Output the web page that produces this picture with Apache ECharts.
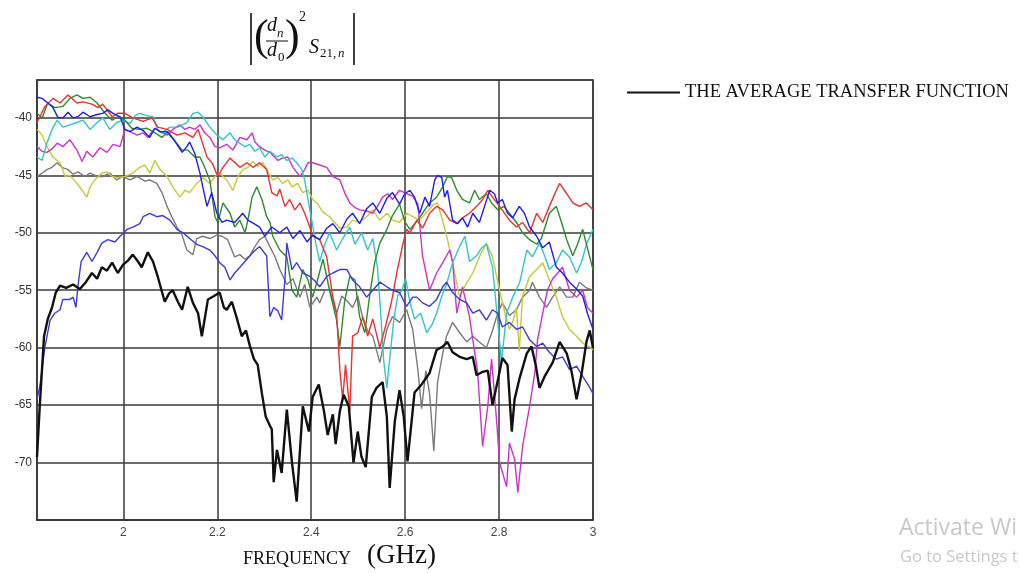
<!DOCTYPE html>
<html>
<head>
<meta charset="utf-8">
<title>Average transfer function</title>
<script src="https://cdn.jsdelivr.net/npm/echarts@6/dist/echarts.min.js"></script>
<style>
html, body { margin: 0; padding: 0; background: #fff; }
#chart { width: 1019px; height: 573px; }
</style>
</head>
<body>
<div id="chart"></div>
<script>
// values: frequency in GHz, level in dB

// average transfer function (black)
var freqAvg = [1.816,1.822,1.831,1.839,1.848,1.856,1.865,1.878,1.893,1.907,1.920,1.933,1.944,1.954,1.965,1.976,1.988,1.999,2.010,2.020,2.031,2.039,2.052,2.063,2.073,2.088,2.097,2.105,2.116,2.125,2.137,2.148,2.159,2.167,2.180,2.193,2.205,2.214,2.220,2.231,2.242,2.252,2.261,2.269,2.278,2.286,2.295,2.303,2.312,2.316,2.320,2.327,2.337,2.348,2.359,2.369,2.382,2.395,2.403,2.416,2.427,2.435,2.446,2.452,2.461,2.469,2.480,2.490,2.499,2.507,2.516,2.529,2.539,2.552,2.561,2.567,2.578,2.588,2.597,2.605,2.620,2.635,2.652,2.667,2.680,2.690,2.701,2.716,2.731,2.744,2.752,2.765,2.776,2.786,2.797,2.807,2.818,2.827,2.833,2.844,2.859,2.869,2.878,2.886,2.897,2.914,2.929,2.944,2.954,2.965,2.976,2.986,2.993,3.000];
var avgTF = [-69.5,-65,-59,-57.5,-56.5,-55.2,-54.6,-54.8,-54.5,-54.9,-54.3,-53.5,-54.0,-53.0,-53.3,-52.6,-53.5,-52.8,-52.4,-51.9,-52.5,-53.0,-51.7,-52.5,-53.8,-56.0,-55.3,-55.0,-56.0,-56.7,-54.7,-56.1,-57.0,-59.0,-55.8,-55.5,-55.2,-56.5,-56.7,-56.0,-57.5,-59.0,-58.5,-59.8,-61.0,-61.5,-64.0,-66.0,-66.8,-67.1,-71.7,-68.9,-70.9,-65.4,-70.0,-73.4,-65.1,-67.3,-64.3,-63.2,-65.5,-67.6,-65.8,-68.4,-65.5,-64.1,-65.1,-70.0,-67.3,-69.5,-70.4,-64.3,-63.5,-63.0,-66.0,-72.2,-66.4,-63.7,-66.0,-69.9,-63.9,-63.2,-62.2,-60.2,-59.9,-59.5,-60.4,-60.8,-61.0,-60.8,-62.4,-62.1,-62.0,-65.0,-62.9,-60.9,-61.5,-67.3,-64.5,-62.6,-60.5,-59.9,-61.5,-63.5,-62.5,-61.3,-59.5,-60.5,-62.0,-64.5,-62.2,-59.5,-58.5,-60.0];

// individual channels
var freqRed = [1.816,1.833,1.850,1.865,1.882,1.901,1.914,1.933,1.946,1.956,1.976,1.988,2.003,2.020,2.042,2.061,2.073,2.093,2.114,2.131,2.148,2.159,2.178,2.190,2.201,2.212,2.227,2.248,2.263,2.276,2.290,2.305,2.316,2.327,2.333,2.344,2.354,2.365,2.376,2.386,2.397,2.403,2.418,2.433,2.446,2.454,2.461,2.467,2.473,2.482,2.488,2.499,2.510,2.520,2.531,2.546,2.559,2.571,2.582,2.595,2.603,2.610,2.625,2.637,2.652,2.667,2.680,2.695,2.710,2.722,2.737,2.752,2.765,2.776,2.786,2.801,2.822,2.837,2.850,2.865,2.880,2.893,2.907,2.922,2.929,2.944,2.957,2.971,2.986,3.000];
var red = [-40.4,-39.0,-38.3,-38.7,-38.0,-38.7,-38.6,-38.8,-39.1,-38.8,-39.9,-39.6,-39.6,-40.0,-40.3,-40.0,-40.8,-41.0,-41.5,-41.3,-41.7,-41.0,-43.4,-44.0,-45.1,-44.3,-43.5,-44.3,-43.9,-44.3,-43.9,-44.5,-46.5,-46.8,-46.2,-47.7,-47.1,-48.0,-47.4,-48.3,-49.5,-50.3,-50.6,-52.1,-55.6,-57.0,-62.0,-64.5,-61.5,-65.5,-59.0,-58.7,-57.3,-59.0,-57.5,-60.0,-58.0,-56.0,-53.5,-51.0,-49.7,-50.0,-48.9,-49.6,-48.3,-47.7,-48.0,-48.9,-49.2,-48.7,-48.3,-47.7,-47.1,-46.3,-46.9,-47.7,-48.9,-49.5,-49.1,-50.0,-48.3,-49.1,-47.7,-46.3,-45.7,-46.6,-47.4,-47.7,-47.4,-48.0];

var freqGreen = [1.816,1.827,1.839,1.854,1.871,1.886,1.901,1.914,1.929,1.944,1.961,1.976,1.988,2.003,2.018,2.035,2.050,2.063,2.082,2.095,2.110,2.125,2.137,2.152,2.163,2.173,2.184,2.195,2.201,2.212,2.227,2.237,2.248,2.259,2.267,2.274,2.284,2.295,2.305,2.312,2.318,2.333,2.348,2.359,2.369,2.382,2.393,2.403,2.414,2.425,2.439,2.454,2.461,2.471,2.482,2.493,2.503,2.514,2.524,2.535,2.546,2.561,2.573,2.588,2.599,2.610,2.625,2.637,2.652,2.667,2.680,2.690,2.699,2.710,2.722,2.737,2.748,2.758,2.773,2.784,2.797,2.810,2.822,2.837,2.850,2.865,2.880,2.890,2.901,2.907,2.922,2.933,2.944,2.957,2.967,2.978,2.986,3.000];
var green = [-39.6,-40.0,-38.7,-39.1,-39.0,-38.3,-38.0,-38.3,-38.2,-38.7,-39.6,-40.2,-39.9,-40.2,-40.9,-41.0,-40.9,-41.2,-41.7,-41.2,-42.0,-42.8,-42.8,-43.4,-43.4,-44.3,-45.4,-48.6,-49.1,-47.4,-48.3,-49.5,-48.9,-50.0,-48.5,-46.9,-46.0,-47.1,-48.6,-49.1,-50.3,-51.5,-52.1,-55.0,-55.6,-53.2,-54.1,-55.6,-54.0,-52.3,-55.0,-57.6,-59.9,-56.0,-53.8,-54.1,-57.3,-58.7,-55.6,-52.6,-50.9,-49.7,-48.5,-47.5,-49.0,-49.7,-49.0,-48.3,-47.4,-46.9,-46.0,-45.1,-45.2,-46.3,-47.1,-47.4,-46.3,-47.1,-46.6,-47.4,-48.0,-47.7,-48.3,-49.1,-50.0,-50.6,-51.0,-50.5,-49.1,-48.3,-47.7,-49.1,-50.6,-52.0,-51.0,-49.7,-51.0,-53.2];

var freqCyan = [1.816,1.827,1.837,1.848,1.859,1.871,1.886,1.901,1.914,1.929,1.944,1.956,1.971,1.986,1.999,2.014,2.025,2.035,2.050,2.063,2.073,2.082,2.099,2.116,2.135,2.148,2.159,2.169,2.184,2.199,2.212,2.227,2.237,2.244,2.259,2.269,2.280,2.290,2.301,2.312,2.327,2.337,2.348,2.359,2.369,2.380,2.386,2.393,2.401,2.410,2.418,2.429,2.439,2.454,2.467,2.482,2.493,2.507,2.520,2.531,2.541,2.548,2.554,2.561,2.567,2.576,2.584,2.593,2.601,2.610,2.620,2.633,2.646,2.657,2.667,2.678,2.688,2.701,2.716,2.727,2.737,2.752,2.763,2.773,2.786,2.797,2.805,2.816,2.829,2.844,2.859,2.871,2.886,2.897,2.907,2.922,2.935,2.950,2.965,2.976,2.986,3.000];
var cyan = [-43.4,-43.7,-42.2,-41.0,-40.2,-40.8,-40.6,-40.4,-40.2,-41.0,-40.4,-40.0,-41.0,-40.4,-40.2,-40.5,-39.8,-39.6,-39.8,-39.9,-41.0,-41.3,-40.8,-40.8,-40.4,-39.6,-39.5,-39.9,-40.8,-41.5,-41.9,-41.3,-41.9,-42.1,-42.5,-42.3,-42.9,-42.6,-43.4,-42.9,-43.4,-43.2,-43.7,-43.5,-43.9,-44.5,-45.4,-47.1,-48.9,-51.0,-52.5,-51.0,-50.0,-51.5,-50.5,-49.5,-51.0,-50.0,-51.5,-50.5,-53.0,-57.0,-61.0,-63.5,-61.0,-57.5,-55.5,-55.0,-54.0,-56.0,-57.5,-57.0,-58.7,-58.0,-57.0,-55.5,-54.5,-52.6,-51.2,-50.3,-52.5,-52.0,-51.3,-51.0,-53.0,-57.6,-61.3,-57.0,-55.6,-54.3,-51.5,-52.1,-50.9,-52.0,-53.2,-52.6,-51.5,-52.1,-53.5,-52.5,-51.0,-49.7];

var freqMagenta = [1.816,1.827,1.837,1.848,1.859,1.871,1.886,1.901,1.912,1.922,1.935,1.950,1.965,1.978,1.993,2.003,2.014,2.029,2.042,2.052,2.067,2.078,2.093,2.105,2.120,2.131,2.141,2.152,2.163,2.173,2.184,2.195,2.205,2.220,2.233,2.248,2.263,2.274,2.280,2.290,2.301,2.312,2.329,2.339,2.350,2.361,2.376,2.386,2.393,2.403,2.418,2.433,2.446,2.461,2.471,2.482,2.493,2.503,2.518,2.531,2.541,2.552,2.563,2.573,2.588,2.603,2.616,2.627,2.637,2.652,2.667,2.680,2.695,2.701,2.710,2.722,2.737,2.744,2.754,2.765,2.776,2.784,2.795,2.801,2.816,2.822,2.833,2.840,2.850,2.865,2.876,2.882,2.893,2.903,2.914,2.925,2.935,2.950,2.965,2.978,2.988,3.000];
var magenta = [-42.5,-42.9,-43.0,-42.7,-42.2,-42.5,-41.9,-42.8,-43.8,-42.9,-43.4,-42.6,-43.0,-42.3,-42.5,-41.0,-41.2,-41.5,-41.3,-41.7,-40.9,-41.2,-41.5,-41.0,-40.6,-41.0,-40.8,-41.0,-40.6,-41.3,-41.7,-42.5,-42.6,-42.3,-42.8,-41.7,-41.9,-41.3,-42.1,-42.5,-42.8,-43.0,-43.7,-43.5,-43.4,-44.3,-45.1,-44.5,-43.9,-43.9,-44.1,-44.3,-45.1,-45.4,-46.5,-47.4,-47.8,-48.0,-48.1,-48.3,-47.7,-46.9,-46.6,-47.1,-46.3,-46.6,-46.8,-47.5,-52.0,-55.0,-53.5,-52.6,-51.5,-52.5,-57.0,-54.7,-57.3,-59.3,-62.0,-68.6,-65.1,-61.0,-66.5,-70.0,-72.1,-68.3,-69.7,-72.6,-68.6,-65.1,-62.2,-59.3,-57.0,-55.0,-54.0,-53.5,-53.0,-55.0,-55.6,-55.0,-56.5,-57.0];

var freqYellow = [1.816,1.827,1.837,1.850,1.865,1.876,1.886,1.901,1.912,1.922,1.929,1.939,1.954,1.965,1.976,1.988,2.003,2.020,2.035,2.046,2.056,2.067,2.078,2.093,2.105,2.120,2.131,2.141,2.156,2.169,2.184,2.195,2.205,2.220,2.233,2.244,2.254,2.265,2.276,2.286,2.297,2.308,2.318,2.329,2.339,2.350,2.359,2.371,2.382,2.393,2.403,2.414,2.425,2.439,2.450,2.461,2.476,2.488,2.503,2.518,2.531,2.546,2.561,2.573,2.588,2.603,2.616,2.631,2.646,2.659,2.669,2.680,2.688,2.701,2.716,2.729,2.744,2.758,2.773,2.786,2.801,2.816,2.822,2.831,2.837,2.843,2.850,2.865,2.880,2.893,2.907,2.922,2.935,2.950,2.965,2.978,2.992,3.000];
var yellow = [-41.0,-41.5,-42.5,-43.4,-43.9,-45.1,-45.0,-45.7,-46.3,-46.9,-46.0,-45.4,-44.8,-44.7,-45.1,-45.2,-45.1,-44.8,-44.3,-44.1,-44.8,-43.7,-44.5,-45.1,-46.0,-46.9,-46.3,-46.5,-45.7,-45.2,-45.7,-45.1,-44.8,-45.4,-46.3,-45.1,-44.5,-44.3,-43.8,-44.2,-43.9,-44.7,-45.4,-45.2,-45.7,-45.4,-46.0,-45.7,-46.5,-46.3,-47.1,-47.5,-48.2,-48.6,-49.1,-49.6,-49.5,-48.9,-49.1,-48.6,-48.0,-48.9,-48.3,-48.9,-49.1,-48.3,-48.6,-48.9,-48.2,-47.6,-47.4,-49.0,-50.2,-52.6,-55.6,-54.5,-53.5,-52.1,-50.9,-52.1,-55.0,-57.6,-58.4,-57.5,-56.5,-60.3,-55.5,-53.8,-53.2,-52.6,-54.1,-55.6,-57.3,-58.4,-59.0,-59.6,-59.9,-60.2];

var freqGray = [1.816,1.827,1.837,1.848,1.859,1.869,1.882,1.893,1.903,1.918,1.929,1.944,1.956,1.971,1.986,1.999,2.014,2.029,2.046,2.056,2.071,2.082,2.093,2.103,2.114,2.125,2.135,2.148,2.156,2.169,2.184,2.199,2.210,2.222,2.237,2.248,2.259,2.269,2.280,2.290,2.301,2.312,2.322,2.333,2.348,2.361,2.376,2.386,2.397,2.412,2.418,2.429,2.439,2.454,2.465,2.478,2.488,2.499,2.510,2.520,2.531,2.546,2.561,2.573,2.588,2.603,2.616,2.627,2.635,2.644,2.652,2.661,2.669,2.680,2.688,2.701,2.716,2.731,2.744,2.758,2.773,2.786,2.797,2.807,2.822,2.837,2.850,2.865,2.871,2.886,2.901,2.914,2.929,2.944,2.957,2.971,2.986,3.000];
var gray = [-45.1,-44.8,-44.5,-44.3,-43.9,-44.3,-44.5,-44.9,-44.7,-45.1,-44.8,-45.1,-45.1,-44.8,-45.4,-45.1,-45.4,-45.1,-45.5,-45.4,-45.7,-46.5,-47.7,-48.6,-49.5,-50.2,-51.5,-51.9,-50.5,-50.3,-50.5,-50.2,-50.3,-50.6,-52.1,-51.9,-52.3,-52.0,-51.2,-50.6,-50.3,-51.2,-52.0,-53.2,-54.5,-54.0,-55.6,-54.5,-56.5,-55.6,-56.1,-55.0,-55.0,-57.0,-55.5,-56.0,-56.5,-55.5,-57.5,-58.5,-59.0,-61.3,-58.4,-57.3,-57.8,-56.7,-58.4,-61.9,-65.3,-62.0,-64.0,-69.0,-63.0,-60.5,-59.0,-57.8,-58.7,-59.5,-59.0,-59.5,-60.0,-58.5,-57.0,-56.1,-57.2,-56.7,-55.6,-55.0,-54.3,-55.6,-56.5,-55.6,-54.7,-55.6,-55.6,-54.3,-54.8,-55.0];

var freqBlueA = [1.816,1.827,1.839,1.850,1.861,1.871,1.882,1.893,1.903,1.914,1.929,1.944,1.956,1.967,1.978,1.993,2.003,2.014,2.029,2.042,2.056,2.067,2.078,2.093,2.103,2.114,2.125,2.135,2.141,2.152,2.163,2.169,2.178,2.188,2.199,2.210,2.220,2.237,2.254,2.265,2.278,2.290,2.301,2.316,2.333,2.348,2.361,2.376,2.391,2.403,2.418,2.433,2.446,2.461,2.476,2.488,2.503,2.518,2.531,2.546,2.561,2.573,2.588,2.599,2.610,2.620,2.631,2.642,2.652,2.663,2.669,2.678,2.684,2.690,2.701,2.712,2.722,2.733,2.744,2.758,2.769,2.780,2.790,2.797,2.807,2.818,2.829,2.843,2.854,2.865,2.880,2.893,2.907,2.922,2.935,2.950,2.965,2.978,2.988,3.000];
var blueA = [-38.2,-38.3,-38.7,-39.1,-40.0,-40.0,-39.5,-40.0,-39.9,-39.5,-39.9,-39.7,-39.6,-39.3,-39.6,-39.9,-41.0,-41.2,-40.8,-41.1,-41.7,-40.9,-41.2,-41.2,-41.7,-42.3,-43.0,-42.5,-42.1,-43.1,-44.8,-46.0,-47.7,-46.5,-48.3,-49.1,-48.9,-49.1,-48.3,-48.9,-49.2,-49.5,-50.3,-49.5,-50.0,-49.5,-50.5,-49.8,-50.8,-50.2,-50.6,-49.6,-49.2,-50.0,-48.8,-48.3,-49.2,-47.9,-47.4,-48.3,-47.0,-46.5,-47.5,-46.6,-46.3,-46.9,-48.3,-46.9,-47.7,-45.4,-45.0,-45.2,-46.9,-46.3,-48.9,-49.2,-48.7,-49.5,-48.3,-49.1,-47.7,-46.3,-46.6,-47.4,-47.1,-48.3,-48.7,-47.7,-48.3,-49.5,-50.3,-51.3,-50.8,-53.0,-53.5,-54.3,-54.9,-55.5,-57.0,-58.4];

var freqBlueB = [1.816,1.822,1.833,1.844,1.854,1.865,1.871,1.886,1.893,1.899,1.903,1.910,1.922,1.933,1.944,1.954,1.967,1.982,1.993,2.008,2.020,2.035,2.042,2.056,2.071,2.084,2.099,2.114,2.127,2.141,2.156,2.169,2.184,2.195,2.205,2.216,2.227,2.237,2.248,2.263,2.276,2.290,2.305,2.312,2.320,2.329,2.337,2.344,2.348,2.359,2.369,2.382,2.397,2.408,2.418,2.433,2.446,2.461,2.476,2.488,2.503,2.518,2.531,2.546,2.561,2.573,2.588,2.603,2.616,2.625,2.637,2.652,2.667,2.680,2.688,2.701,2.716,2.731,2.744,2.758,2.773,2.786,2.797,2.807,2.822,2.837,2.850,2.865,2.880,2.893,2.907,2.922,2.935,2.950,2.965,2.978,2.992,3.000];
var blueB = [-64.5,-63.4,-59.9,-57.6,-57.0,-56.7,-55.8,-55.8,-55.6,-56.5,-54.7,-52.5,-51.7,-52.5,-51.7,-50.9,-50.6,-50.8,-50.3,-49.7,-49.5,-49.2,-48.6,-48.3,-48.6,-48.5,-48.9,-49.7,-50.0,-50.5,-51.0,-51.2,-51.5,-52.0,-52.6,-53.0,-54.1,-53.5,-53.0,-52.3,-51.7,-51.2,-52.0,-57.3,-56.5,-56.8,-57.6,-54.0,-50.9,-53.2,-52.6,-53.5,-53.8,-54.2,-54.7,-53.8,-53.5,-53.2,-53.2,-54.1,-54.7,-55.6,-55.0,-54.3,-54.7,-55.0,-55.2,-56.4,-55.6,-55.6,-56.1,-56.4,-55.8,-54.7,-54.3,-55.2,-55.8,-56.1,-57.0,-56.7,-57.6,-56.7,-57.0,-58.2,-57.8,-58.4,-58.2,-59.3,-59.9,-59.6,-60.4,-61.0,-60.8,-61.9,-61.6,-62.5,-63.4,-64.0];

var xTicks = [2, 2.2, 2.4, 2.6, 2.8, 3];
var yTicks = [-40, -45, -50, -55, -60, -65, -70];
var legendName = 'THE AVERAGE TRANSFER FUNCTION';

function pairs(xs, ys) {
	var out = [];
	for (var i = 0; i < xs.length; i++) {
		out.push([xs[i], ys[i]]);
	}
	return out;
}

function pickTick(list, v) {
	for (var i = 0; i < list.length; i++) {
		if (Math.abs(list[i] - v) < 1e-6) return String(list[i]);
	}
	return '';
}

function channel(name, xs, ys, color) {
	return {
		name: name,
		type: 'line',
		data: pairs(xs, ys),
		symbol: 'none',
		z: 2,
		lineStyle: { color: color, width: 1.4 },
		itemStyle: { color: color }
	};
}

var serif = '"Liberation Serif", "DejaVu Serif", serif';

var myChart = echarts.init(document.getElementById('chart'));
option = {
	animation: false,
	backgroundColor: '#ffffff',
	grid: {
		left: 37,
		right: 426,
		top: 80,
		bottom: 53,
		show: true,
		borderColor: '#333',
		borderWidth: 1.5
	},
	legend: {
		data: [{ name: legendName, icon: 'rect' }],
		left: 622,
		top: 78,
		itemWidth: 53,
		itemHeight: 2.2,
		itemGap: 5,
		textStyle: { fontFamily: serif, fontSize: 18.5, color: '#111' }
	},
	xAxis: {
		type: 'value',
		min: 1.816,
		max: 3,
		axisLine: { show: true, onZero: false, lineStyle: { color: '#333', width: 1.5 } },
		axisTick: { show: false, customValues: xTicks },
		splitLine: { show: true, lineStyle: { color: '#3a3a3a', width: 1.5 } },
		axisLabel: {
			customValues: xTicks,
			color: '#444',
			fontSize: 12,
			fontFamily: '"Liberation Sans", Arial, sans-serif',
			margin: 7,
			formatter: function (v) { return pickTick(xTicks, v); }
		}
	},
	yAxis: {
		type: 'value',
		min: -75,
		max: -36.7,
		interval: 5,
		axisLine: { show: true, lineStyle: { color: '#333', width: 1.5 } },
		axisTick: { show: false },
		splitLine: { show: true, lineStyle: { color: '#3a3a3a', width: 1.5 } },
		axisLabel: {
			color: '#333',
			fontSize: 12,
			fontFamily: '"Liberation Sans", Arial, sans-serif',
			margin: 5,
			formatter: function (v) { return pickTick(yTicks, v); }
		}
	},
	graphic: [
		// |(dn/d0)^2 S21,n| label above the plot
		{ type: 'line', shape: { x1: 251, y1: 13, x2: 251, y2: 65 }, style: { stroke: '#111', lineWidth: 1.6 } },
		{ type: 'line', shape: { x1: 354, y1: 13, x2: 354, y2: 65 }, style: { stroke: '#111', lineWidth: 1.6 } },
		{ type: 'text', left: 254, top: 16, style: { text: '(', font: '44px ' + serif, fill: '#111' } },
		{ type: 'text', left: 267, top: 16, style: { text: 'd', font: 'italic 20px ' + serif, fill: '#111' } },
		{ type: 'text', left: 277, top: 27, style: { text: 'n', font: 'italic 13px ' + serif, fill: '#111' } },
		{ type: 'line', shape: { x1: 266, y1: 41, x2: 288, y2: 41 }, style: { stroke: '#111', lineWidth: 1 } },
		{ type: 'text', left: 267, top: 41, style: { text: 'd', font: 'italic 20px ' + serif, fill: '#111' } },
		{ type: 'text', left: 278, top: 51, style: { text: '0', font: '13px ' + serif, fill: '#111' } },
		{ type: 'text', left: 285, top: 16, style: { text: ')', font: '44px ' + serif, fill: '#111' } },
		{ type: 'text', left: 299, top: 10, style: { text: '2', font: '14px ' + serif, fill: '#111' } },
		{ type: 'text', left: 309, top: 38, style: { text: 'S', font: 'italic 20px ' + serif, fill: '#111' } },
		{ type: 'text', left: 320, top: 47, style: { text: '21,', font: '13px ' + serif, fill: '#111' } },
		{ type: 'text', left: 338, top: 47, style: { text: 'n', font: 'italic 13px ' + serif, fill: '#111' } },
		// axis title
		{ type: 'text', left: 243, top: 550, style: { text: 'FREQUENCY', font: '18px ' + serif, fill: '#111' } },
		{ type: 'text', left: 367, top: 542, style: { text: '(GHz)', font: '27px ' + serif, fill: '#111' } },
		// screen watermark in the capture
		{ type: 'text', left: 899, top: 517, style: { text: 'Activate Windows', font: '23px "Open Sans", sans-serif', fill: '#c8c8c8' } },
		{ type: 'text', left: 900, top: 549, style: { text: 'Go to Settings to activate Windows.', font: '16.5px "Open Sans", sans-serif', fill: '#c8c8c8' } }
	],
	series: [
		channel('ch1', freqGray, gray, '#7a7a7a'),
		channel('ch2', freqYellow, yellow, '#c8c83a'),
		channel('ch3', freqMagenta, magenta, '#cc33cc'),
		channel('ch4', freqCyan, cyan, '#33c6c6'),
		channel('ch5', freqGreen, green, '#2e8b2e'),
		channel('ch6', freqRed, red, '#ee3030'),
		channel('ch7', freqBlueB, blueB, '#3c3cdc'),
		channel('ch8', freqBlueA, blueA, '#2020e8'),
		{
			name: legendName,
			type: 'line',
			data: pairs(freqAvg, avgTF),
			symbol: 'none',
			z: 5,
			lineStyle: { color: '#111', width: 2.4 },
			itemStyle: { color: '#111' }
		}
	]
};
myChart.setOption(option);
</script>
</body>
</html>
